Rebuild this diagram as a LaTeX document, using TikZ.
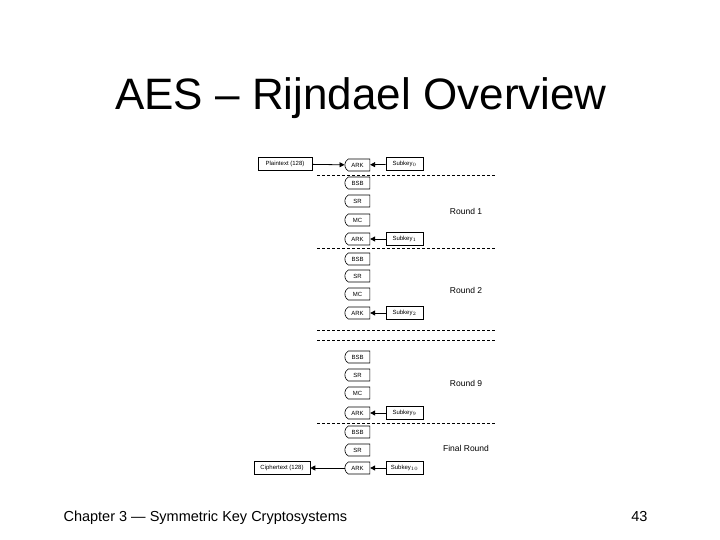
\documentclass[tikz,border=0pt]{standalone}
\usepackage{fontspec}
\setmainfont{Liberation Sans}
\usetikzlibrary{shapes.misc,arrows.meta}

\begin{document}
\begin{tikzpicture}[x=1pt,y=-1pt,
	stepbox/.style={rounded rectangle,rounded rectangle right arc=none,
		rounded rectangle arc length=120,draw,line width=0.6pt,
		minimum width=25pt,minimum height=12pt,inner sep=0pt,
		font=\fontsize{6}{7}\selectfont},
	keybox/.style={draw,line width=0.6pt,minimum width=37pt,minimum height=13pt,
		inner sep=1pt,font=\fontsize{6}{7}\selectfont},
	feed/.style={-{Triangle[length=5pt,width=5pt]},line width=0.8pt},
	sep/.style={dash pattern=on 3pt off 2pt,line width=0.5pt},
	roundlabel/.style={font=\fontsize{8.5}{10}\selectfont}]
	\useasboundingbox (0,0) rectangle (720,540);

	\node[anchor=base,font=\fontsize{44}{52}\selectfont] (title) at (361,110)
		{AES – Rijndael Overview};

	% round 1
	\node[keybox,minimum width=54pt] (plain) at (285,164) {Plaintext (128)};
	\node[stepbox] (ark0) at (357.5,165) {ARK};
	\node[keybox] (key0) at (404.5,164) {Subkey$_0$};
	\draw[sep] (317,175) -- (495,175);
	\node[stepbox] (bsb1) at (357.5,183) {BSB};
	\node[stepbox] (sr1) at (357.5,201) {SR};
	\node[stepbox] (mc1) at (357.5,220) {MC};
	\node[stepbox] (ark1) at (357.5,239) {ARK};
	\node[keybox] (key1) at (404.5,239) {Subkey$_1$};
	\node[roundlabel] (round1) at (466,211) {Round 1};
	\draw[sep] (317,248) -- (495,248);

	% round 2
	\node[stepbox] (bsb2) at (357.5,259) {BSB};
	\node[stepbox] (sr2) at (357.5,276) {SR};
	\node[stepbox] (mc2) at (357.5,294) {MC};
	\node[stepbox] (ark2) at (357.5,313) {ARK};
	\node[keybox] (key2) at (404.5,313) {Subkey$_2$};
	\node[roundlabel] (round2) at (466,290) {Round 2};
	\draw[sep] (317,330) -- (495,330);
	\draw[sep] (317,340) -- (495,340);

	% round 9
	\node[stepbox] (bsb9) at (357.5,357) {BSB};
	\node[stepbox] (sr9) at (357.5,375) {SR};
	\node[stepbox] (mc9) at (357.5,393) {MC};
	\node[stepbox] (ark9) at (357.5,413) {ARK};
	\node[keybox] (key9) at (404.5,413) {Subkey$_9$};
	\node[roundlabel] (round9) at (466,383) {Round 9};
	\draw[sep] (317,423) -- (495,423);

	% final round
	\node[stepbox] (bsb10) at (357.5,432) {BSB};
	\node[stepbox] (sr10) at (357.5,450) {SR};
	\node[stepbox] (ark10) at (357.5,468) {ARK};
	\node[keybox] (key10) at (404.5,468) {Subkey$_{10}$};
	\node[keybox,minimum width=56pt] (cipher) at (282,468) {Ciphertext (128)};
	\node[roundlabel] (round10) at (466,448) {Final Round};

	\draw[feed] (plain) -- (ark0);
	\draw[feed] (key0) -- (ark0);
	\draw[feed] (key1) -- (ark1);
	\draw[feed] (key2) -- (ark2);
	\draw[feed] (key9) -- (ark9);
	\draw[feed] (key10) -- (ark10);
	\draw[feed] (ark10) -- (cipher);

	\node[anchor=base west,font=\fontsize{14.5}{16}\selectfont] (chapter) at (60,521)
		{Chapter 3 — Symmetric Key Cryptosystems};
	\node[anchor=base east,font=\fontsize{14.5}{16}\selectfont] (page) at (651,521) {43};
\end{tikzpicture}
\end{document}
